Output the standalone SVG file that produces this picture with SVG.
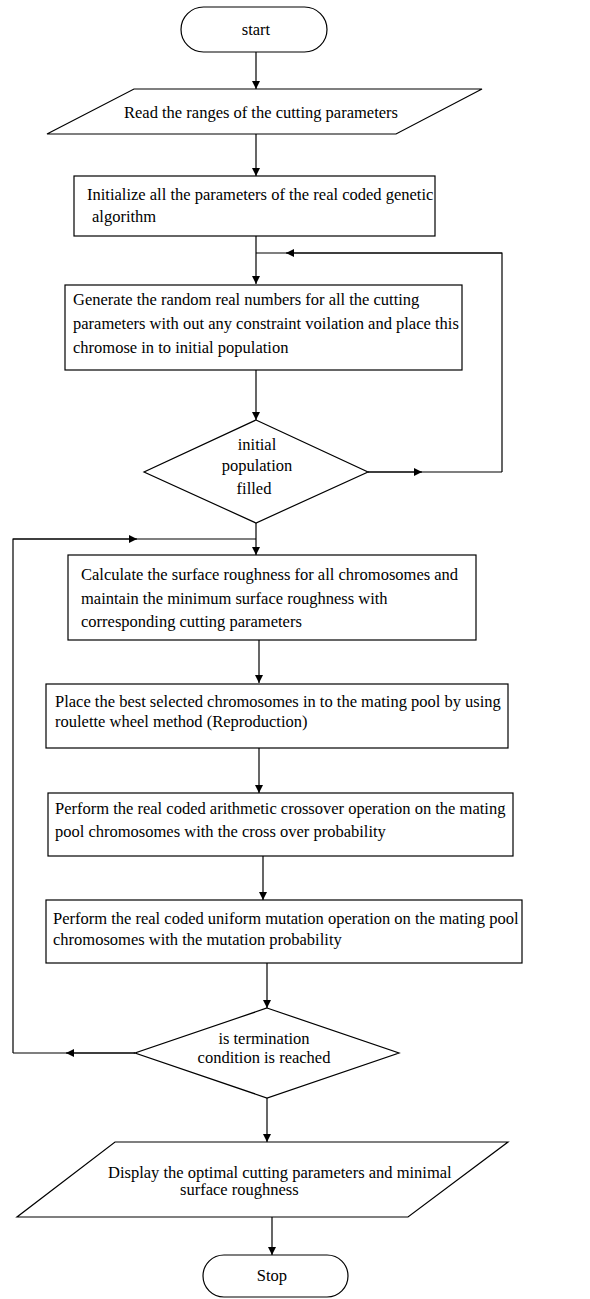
<svg xmlns="http://www.w3.org/2000/svg" width="590" height="1299" viewBox="0 0 590 1299">
<defs>
<marker id="ah" viewBox="0 0 10 10" refX="10" refY="5" markerWidth="8" markerHeight="8" markerUnits="userSpaceOnUse" orient="auto">
<path d="M0,0 L10,5 L0,10 Z" fill="#000"/>
</marker>
</defs>
<style>
.shape{fill:#fff;stroke:#000;stroke-width:1.2}
.t{font-family:"Liberation Serif","Times New Roman",serif;font-size:16.5px;fill:#000}
.c{text-anchor:middle}
.ln{fill:none;stroke:#000;stroke-width:1.2}
.arr{fill:none;stroke:#000;stroke-width:1.2;marker-end:url(#ah)}
</style>
<rect width="590" height="1299" fill="#fff"/>
<g id="connectors">
<line class="arr" x1="256" y1="52" x2="256" y2="89"/>
<line class="arr" x1="256" y1="134" x2="256" y2="176"/>
<line class="arr" x1="256" y1="236" x2="256" y2="284"/>
<line class="arr" x1="256" y1="370" x2="256" y2="420"/>
<line class="ln" x1="368" y1="472" x2="502" y2="472"/>
<line class="arr" x1="368" y1="472" x2="422" y2="472"/>
<polyline class="ln" points="502,472 502,253 256,253"/>
<line class="arr" x1="502" y1="253" x2="286" y2="253"/>
<line class="arr" x1="256" y1="523" x2="256" y2="555"/>
<line class="arr" x1="259" y1="640" x2="259" y2="683"/>
<line class="arr" x1="259" y1="748" x2="259" y2="793"/>
<line class="arr" x1="263" y1="856" x2="263" y2="900"/>
<line class="arr" x1="267" y1="963" x2="267" y2="1008"/>
<line class="ln" x1="135" y1="1053" x2="13" y2="1053"/>
<line class="arr" x1="135" y1="1053" x2="66" y2="1053"/>
<polyline class="ln" points="13,1053 13,539 256,539"/>
<line class="arr" x1="13" y1="539" x2="137" y2="539"/>
<line class="arr" x1="267" y1="1098" x2="267" y2="1142"/>
<line class="arr" x1="272" y1="1217" x2="272" y2="1255"/>
</g>
<g id="start">
<rect class="shape" x="181" y="7" width="146" height="45" rx="22.5"/>
<text class="t c" x="256" y="35">start</text>
</g>
<g id="read">
<polygon class="shape" points="134,89 482,89 396,134 47,134"/>
<text class="t" x="124" y="118">Read the ranges of the cutting parameters</text>
</g>
<g id="init">
<rect class="shape" x="74" y="176" width="361" height="60"/>
<text class="t" x="87" y="200">Initialize all the parameters of the real coded genetic</text>
<text class="t" x="92" y="222">algorithm</text>
</g>
<g id="generate">
<rect class="shape" x="65" y="285" width="397" height="85"/>
<text class="t" x="73" y="305">Generate the random real numbers for all the cutting</text>
<text class="t" x="73" y="329">parameters with out any constraint voilation and place this</text>
<text class="t" x="73" y="353">chromose in to initial population</text>
</g>
<g id="filled">
<polygon class="shape" points="256,420 368,472 256,523 144,472"/>
<text class="t c" x="257" y="450">initial</text>
<text class="t c" x="257" y="471">population</text>
<text class="t c" x="254" y="494">filled</text>
</g>
<g id="calculate">
<rect class="shape" x="68" y="555" width="408" height="85"/>
<text class="t" x="81" y="580">Calculate the surface roughness for all chromosomes  and</text>
<text class="t" x="81" y="604">maintain the minimum surface roughness with</text>
<text class="t" x="81" y="627">corresponding cutting parameters</text>
</g>
<g id="reproduction">
<rect class="shape" x="46" y="684" width="462" height="64"/>
<text class="t" x="55" y="707">Place the best selected chromosomes in to the mating pool by using</text>
<text class="t" x="55" y="727">roulette wheel method (Reproduction)</text>
</g>
<g id="crossover">
<rect class="shape" x="48" y="793" width="465" height="63"/>
<text class="t" x="55" y="814">Perform the real coded arithmetic crossover operation on the mating</text>
<text class="t" x="55" y="837">pool chromosomes with the cross over probability</text>
</g>
<g id="mutation">
<rect class="shape" x="46" y="900" width="476" height="63"/>
<text class="t" x="53" y="924">Perform the real coded uniform mutation operation on the mating pool</text>
<text class="t" x="53" y="945">chromosomes with the mutation probability</text>
</g>
<g id="termination">
<polygon class="shape" points="267,1008 399,1053 267,1098 135,1053"/>
<text class="t c" x="264" y="1044">is termination</text>
<text class="t c" x="264" y="1063">condition is reached</text>
</g>
<g id="display">
<polygon class="shape" points="115,1142 508,1142 408,1217 17,1217"/>
<text class="t" x="108" y="1178">Display the optimal cutting parameters and minimal</text>
<text class="t" x="180" y="1195">surface roughness</text>
</g>
<g id="stop">
<rect class="shape" x="203" y="1255" width="145" height="42" rx="21"/>
<text class="t c" x="272" y="1281">Stop</text>
</g>
</svg>
